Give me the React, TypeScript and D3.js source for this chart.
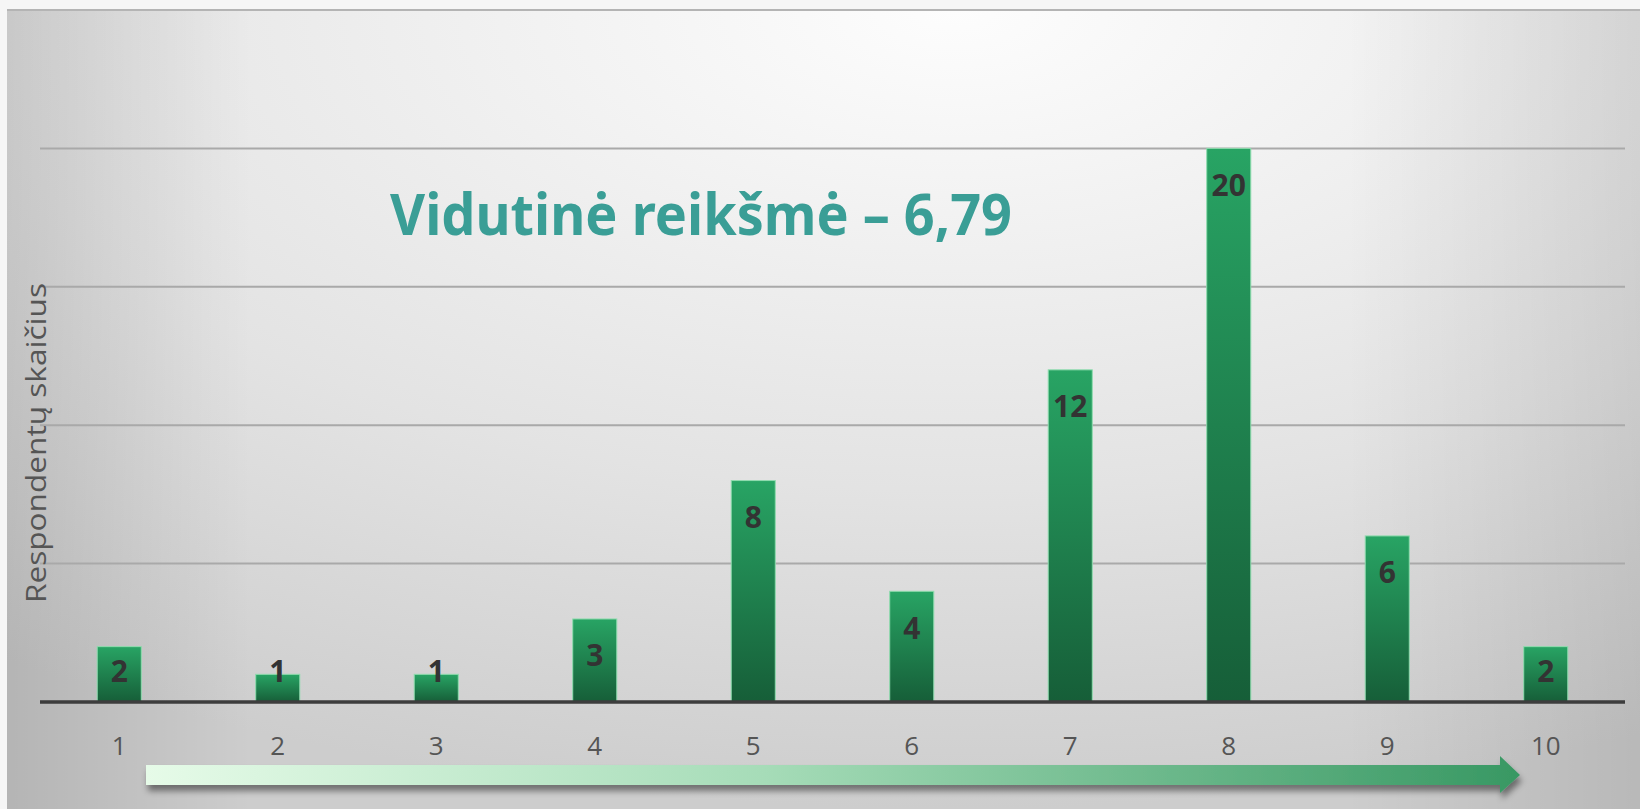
import * as d3 from "d3";
import { useEffect, useRef } from "react";

// values
const categories = ["1", "2", "3", "4", "5", "6", "7", "8", "9", "10"];
const counts = [2, 1, 1, 3, 8, 4, 12, 20, 6, 2];
const gridValues = [5, 10, 15, 20];
const titleText = "Vidutinė reikšmė – 6,79";
const yTitle = "Respondentų skaičius";

const W = 1640;
const H = 809;
const plot = { left: 40, right: 1625, top: 10, bottom: 702 };

const App = () => {
  const axisRef = useRef<SVGGElement>(null);

  const x = d3
    .scaleBand()
    .domain(categories)
    .range([plot.left, plot.right])
    .paddingInner(0.722)
    .paddingOuter(0.361);

  const y = d3.scaleLinear().domain([0, 25]).range([plot.bottom, plot.top]);

  useEffect(() => {
    const g = d3.select(axisRef.current);
    g.selectAll("*").remove();
    g.call(d3.axisBottom(x).tickSize(0).tickPadding(35));
    g.select(".domain").remove();
    g.selectAll("text")
      .attr("fill", "#555")
      .attr("font-size", 26)
      .attr("font-family", "'Open Sans', sans-serif");
  }, []);

  // arrow under the axis (decoration)
  const ax0 = 146, ax1 = 1500, axTip = 1520, ayTop = 765, ayBot = 785;
  const arrowPath = `M${ax0},${ayTop} L${ax1},${ayTop} L${ax1},756 L${axTip},775 L${ax1},793 L${ax1},${ayBot} L${ax0},${ayBot} Z`;

  return (
    <svg
      width={W}
      height={H}
      style={{ position: "absolute", left: 0, top: 0, display: "block" }}
    >
      <defs>
        <radialGradient id="bg" cx="0.58" cy="0" r="1" fx="0.58" fy="0">
          <stop offset="0" stopColor="#fdfdfd" />
          <stop offset="0.6" stopColor="#e3e3e3" />
          <stop offset="1" stopColor="#cdcdcd" />
        </radialGradient>
        <linearGradient id="vign" x1="0" x2="1" y1="0" y2="0">
          <stop offset="0" stopColor="#000" stopOpacity="0.12" />
          <stop offset="0.15" stopColor="#000" stopOpacity="0" />
          <stop offset="0.82" stopColor="#000" stopOpacity="0" />
          <stop offset="1" stopColor="#000" stopOpacity="0.1" />
        </linearGradient>
        <linearGradient id="bar" x1="0" x2="0" y1="0" y2="1">
          <stop offset="0" stopColor="#28a464" />
          <stop offset="1" stopColor="#165e38" />
        </linearGradient>
        <linearGradient id="arrow" x1="0" x2="1" y1="0" y2="0">
          <stop offset="0" stopColor="#e6fbe8" />
          <stop offset="0.45" stopColor="#a6dcb8" />
          <stop offset="1" stopColor="#389863" />
        </linearGradient>
        <filter id="shadow" x="-5%" y="-50%" width="110%" height="200%">
          <feDropShadow dx="2" dy="6" stdDeviation="3" floodColor="#000" floodOpacity="0.45" />
        </filter>
      </defs>

      <rect x={0} y={0} width={W} height={H} fill="#f6f6f6" />
      <rect x={7} y={plot.top} width={W - 7} height={H - plot.top} fill="url(#bg)" />
      <rect x={7} y={plot.top} width={W - 7} height={H - plot.top} fill="url(#vign)" />
      <line x1={7} x2={W} y1={y(25)} y2={y(25)} stroke="#b4b4b4" strokeWidth={2} />

      {gridValues.map((v) => (
        <line
          key={v}
          x1={plot.left}
          x2={plot.right}
          y1={y(v)}
          y2={y(v)}
          stroke="#a9a9a9"
          strokeWidth={2}
        />
      ))}

      <text
        x={701}
        y={235}
        textAnchor="middle"
        fontFamily="'Noto Sans', sans-serif"
        fontWeight={700}
        fontSize={58}
        fill="#3a9e96"
        textLength={622}
        lengthAdjust="spacingAndGlyphs"
      >
        {titleText}
      </text>

      <text
        transform={`translate(46,443) rotate(-90)`}
        textAnchor="middle"
        fontFamily="'Open Sans', sans-serif"
        fontWeight={400}
        fontSize={27}
        fill="#555"
        textLength={320}
        lengthAdjust="spacingAndGlyphs"
      >
        {yTitle}
      </text>

      {counts.map((c, i) => {
        const cat = categories[i];
        const top = y(c);
        return (
          <g key={cat}>
            <rect
              x={x(cat)}
              y={top}
              width={x.bandwidth()}
              height={y(0) - top}
              fill="url(#bar)"
              stroke="#8fdcae"
              strokeWidth={1}
            />
            <text
              x={(x(cat) ?? 0) + x.bandwidth() / 2}
              y={Math.min(top + 37, y(0) - 31)}
              dy="0.35em"
              textAnchor="middle"
              fontFamily="'Noto Sans', sans-serif"
              fontWeight={700}
              fontSize={30}
              fill="#333"
            >
              {c}
            </text>
          </g>
        );
      })}

      <line
        x1={plot.left}
        x2={plot.right}
        y1={y(0)}
        y2={y(0)}
        stroke="#3d3d3d"
        strokeWidth={3.5}
      />

      <g ref={axisRef} transform={`translate(0,${y(0)})`} />

      <path d={arrowPath} fill="url(#arrow)" filter="url(#shadow)" />
    </svg>
  );
};

export default App;
